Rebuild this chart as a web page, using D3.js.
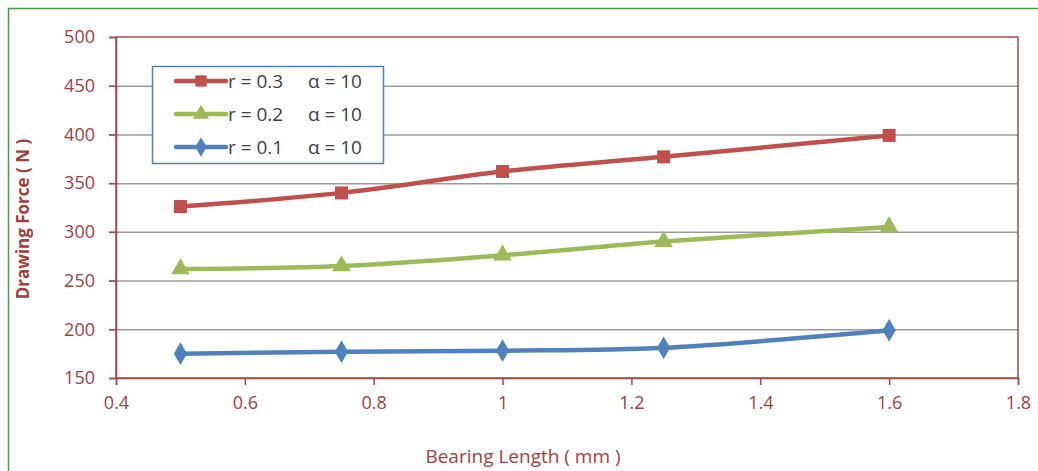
<!DOCTYPE html>
<html>
<head>
<meta charset="utf-8">
<script src="https://cdn.jsdelivr.net/npm/d3@7"></script>
<style>
  body { margin: 0; background: #fff; }
  svg text { font-family: "Open Sans", "Noto Sans", sans-serif; }
</style>
</head>
<body>
<div class="js-chart"></div>
<script>
'use strict';

// bearing length (mm)
var lengths = [0.5, 0.75, 1.0, 1.25, 1.6];

// drawing force (N) per series
var forceR03 = [326, 340, 362, 377, 399];
var forceR02 = [262, 265, 276, 290, 305];
var forceR01 = [175, 177, 178, 181, 199];

var seriesNames = ['r = 0.3     \u03b1 = 10', 'r = 0.2     \u03b1 = 10', 'r = 0.1     \u03b1 = 10'];
var xTicks = [0.4, 0.6, 0.8, 1, 1.2, 1.4, 1.6, 1.8];
var yTicks = [150, 200, 250, 300, 350, 400, 450, 500];

var dim = { w: 1038, h: 471 };
var plot = { left: 116, right: 1018, top: 37, bottom: 378 };
var axisColor = '#a34a47';
var textColor = '#a0403d';

var series = [
    { name: seriesNames[0], values: forceR03, color: '#c0504d', shape: 'square' },
    { name: seriesNames[1], values: forceR02, color: '#9bbb59', shape: 'triangle' },
    { name: seriesNames[2], values: forceR01, color: '#4f81bd', shape: 'diamond' }
];

var svg = d3.select('.js-chart').append('svg')
    .attr('width', dim.w)
    .attr('height', dim.h);

//outer green frame
svg.append('rect')
    .attr('x', 8.5).attr('y', 8.5)
    .attr('width', dim.w + 10).attr('height', dim.h + 10)
    .style('fill', 'none')
    .style('stroke', '#4a9a48')
    .style('stroke-width', 1.5);

var x = d3.scaleLinear().domain([0.4, 1.8]).range([plot.left, plot.right]);
var y = d3.scaleLinear().domain([150, 500]).range([plot.bottom, plot.top]);

//gridlines
svg.append('g').selectAll('line').data(yTicks.slice(1, -1)).enter().append('line')
    .attr('x1', plot.left - 7).attr('x2', plot.right)
    .attr('y1', function (d) { return y(d) + 0.5; })
    .attr('y2', function (d) { return y(d) + 0.5; })
    .style('stroke', '#9a9a9a')
    .style('stroke-width', 1.5);

//plot frame
svg.append('rect')
    .attr('x', plot.left).attr('y', plot.top)
    .attr('width', plot.right - plot.left).attr('height', plot.bottom - plot.top)
    .style('fill', 'none')
    .style('stroke', axisColor)
    .style('stroke-width', 1.5);

//axes
var yAxis = svg.append('g')
    .attr('transform', 'translate(' + plot.left + ',0)')
    .call(d3.axisLeft(y).tickValues(yTicks).tickSize(7).tickPadding(14));
var xAxis = svg.append('g')
    .attr('transform', 'translate(0,' + plot.bottom + ')')
    .call(d3.axisBottom(x).tickValues(xTicks).tickSize(7).tickPadding(11)
        .tickFormat(function (d) { return d3.format('')(d); }));

[xAxis, yAxis].forEach(function (ax) {
    ax.attr('font-size', null).attr('font-family', null);
    ax.select('.domain').style('stroke', axisColor).style('stroke-width', 1.5);
    ax.selectAll('.tick line').style('stroke', axisColor).style('stroke-width', 1.5);
    ax.selectAll('.tick text')
        .style('fill', textColor)
        .style('font-size', '18px');
});

//axis titles
svg.append('text')
    .attr('x', 523).attr('y', 463)
    .attr('text-anchor', 'middle')
    .style('fill', textColor)
    .style('font-size', '19px')
    .text('Bearing Length ( mm )');

svg.append('text')
    .attr('transform', 'translate(29,219) rotate(-90)')
    .attr('text-anchor', 'middle')
    .style('fill', textColor)
    .style('font-size', '17px')
    .style('font-weight', 'bold')
    .text('Drawing Force ( N )');

function symbolFor(shape, k) {
    k = k || 1;
    if (shape === 'square') return d3.symbol().type(d3.symbolSquare).size(170 * k);
    if (shape === 'triangle') return d3.symbol().type(d3.symbolTriangle).size(150 * k);
    return d3.symbol().type(d3.symbolDiamond).size(150 * k);
}

var line = d3.line()
    .x(function (d) { return x(d[0]); })
    .y(function (d) { return y(d[1]); })
    .curve(d3.curveCatmullRom.alpha(0.5));

//series lines and markers
series.forEach(function (s) {
    var pts = lengths.map(function (l, i) { return [l, s.values[i]]; });
    svg.append('path')
        .datum(pts)
        .attr('d', line)
        .style('fill', 'none')
        .style('stroke', s.color)
        .style('stroke-width', 4.5)
        .style('stroke-linecap', 'round');
    svg.append('g').selectAll('path').data(pts).enter().append('path')
        .attr('d', symbolFor(s.shape))
        .attr('transform', function (d) { return 'translate(' + x(d[0]) + ',' + y(d[1]) + ')'; })
        .style('fill', s.color);
});

//legend
var legend = svg.append('g');
legend.append('rect')
    .attr('x', 152.5).attr('y', 66.5)
    .attr('width', 231).attr('height', 97)
    .style('fill', '#fff')
    .style('stroke', '#4f81bd')
    .style('stroke-width', 1.5);

series.forEach(function (s, i) {
    var ly = 81 + i * 33;
    legend.append('line')
        .attr('x1', 176).attr('x2', 226)
        .attr('y1', ly).attr('y2', ly)
        .style('stroke', s.color)
        .style('stroke-width', 4.5)
        .style('stroke-linecap', 'round');
    legend.append('path')
        .attr('d', symbolFor(s.shape, 0.75))
        .attr('transform', 'translate(201,' + ly + ')')
        .style('fill', s.color);
    legend.append('text')
        .attr('x', 228).attr('y', ly + 7)
        .style('fill', '#404040')
        .style('font-size', '19px')
        .attr('xml:space', 'preserve')
        .text(s.name);
});
</script>
</body>
</html>
